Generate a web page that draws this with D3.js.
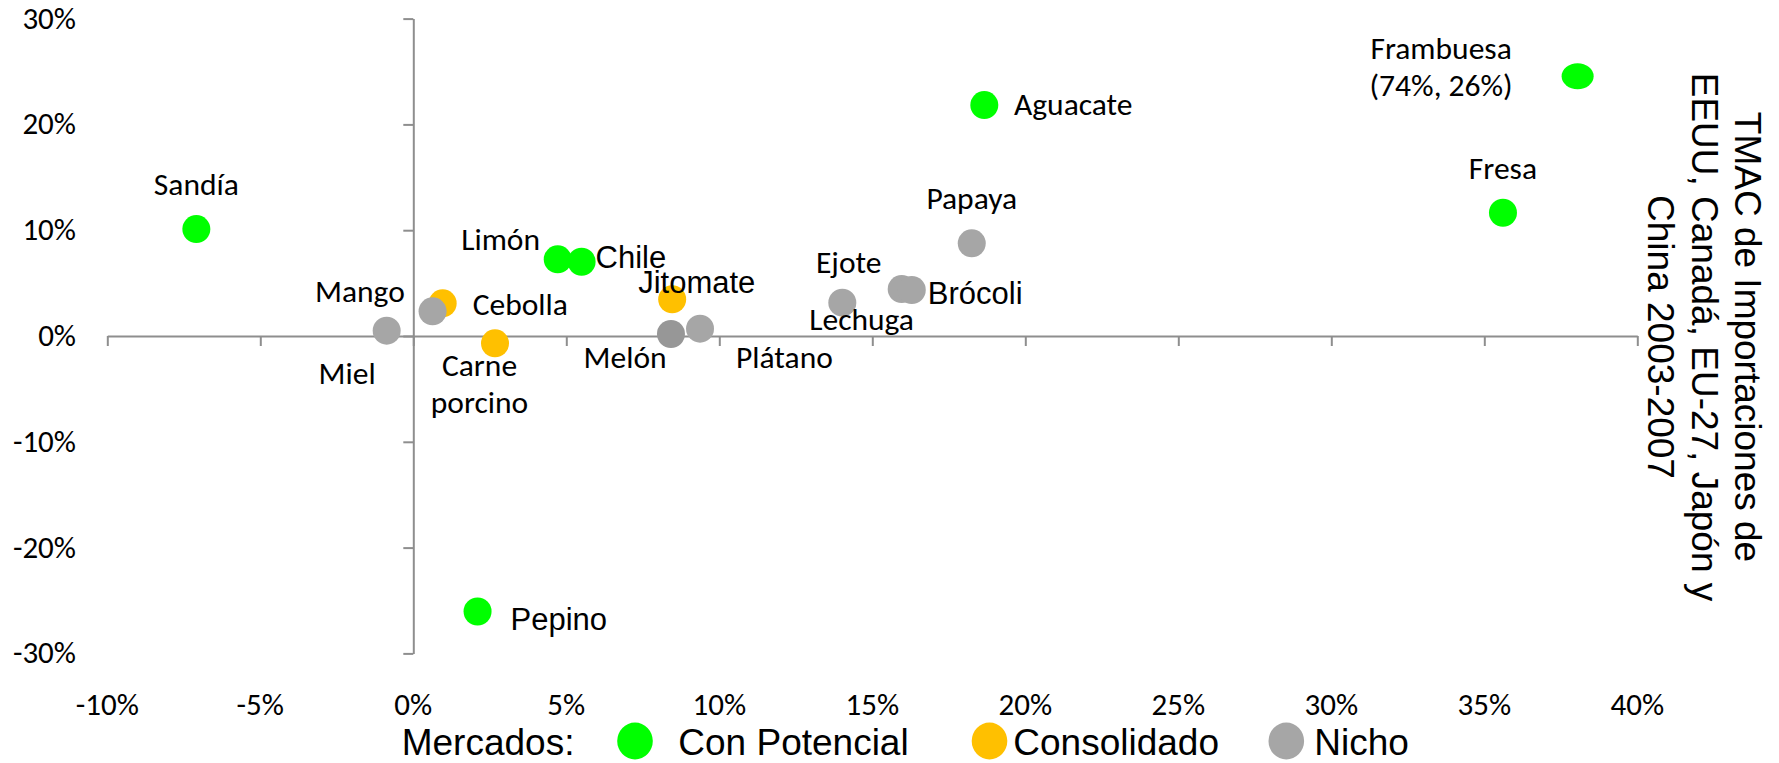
<!DOCTYPE html>
<html><head><meta charset="utf-8">
<script src="https://cdn.jsdelivr.net/npm/d3@7"></script>
<style>body{margin:0;background:#fff}svg{display:block}</style>
</head><body>
<svg id="c" width="1779" height="763"></svg>
<script>
// ---------- DATA ----------
const products = ["Sandía","Miel","Mango","Cebolla","Carne porcino","Limón","Chile","Jitomate","Melón","Plátano","Ejote","Lechuga","Brócoli","Papaya","Aguacate","Frambuesa","Fresa","Pepino"];
const xValues = [-7.09,-0.87,0.63,0.96,2.67,4.72,5.50,8.46,8.42,9.37,14.02,15.96,16.29,18.25,18.66,38.05,35.61,2.10];
const yValues = [10.11,0.50,2.33,3.09,-0.69,7.25,7.02,3.47,0.19,0.69,3.15,4.44,4.35,8.76,21.83,24.55,11.65,-26.04];
const markets = ["Con Potencial","Nicho","Nicho","Consolidado","Consolidado","Con Potencial","Con Potencial","Consolidado","Nicho","Nicho","Nicho","Nicho","Nicho","Nicho","Con Potencial","Con Potencial","Con Potencial","Con Potencial"];
const labelLines = {"Carne porcino":["Carne","porcino"],"Frambuesa":["Frambuesa","(74%, 26%)"]};
const xTicks = [-10,-5,0,5,10,15,20,25,30,35,40];
const yTicks = [-30,-20,-10,0,10,20,30];
const legendTitle = "Mercados:";
const legendItems = ["Con Potencial","Consolidado","Nicho"];
const axisTitleLines = ["TMAC de Importaciones de","EEUU, Canadá, EU-27, Japón y","China 2003-2007"];

// ---------- STYLE / LAYOUT ----------
const colors = {"Con Potencial":"#00FF00","Consolidado":"#FFC000","Nicho":"#A6A6A6"};
const colorOverride = {"Melón":"#979797"};
const markerShape = {"Frambuesa":[16,13]};
const axisColor = "#8E8E8E";
const calFamily = "Carlito, Lato, sans-serif";
const arialFamily = "'Liberation Sans', Arial, sans-serif";
const labelLayout = {
  "Sandía":[ "middle",0,-34,"c"],
  "Miel":["end",-11,53.6,"c"],
  "Mango":["end",-27.7,-9.6,"c"],
  "Cebolla":["start",30,11.7,"c"],
  "Carne porcino":["middle",-15.5,32.7,"c"],
  "Limón":["end",-17.7,-9.3,"c"],
  "Chile":["start",14,6.6,"a"],
  "Jitomate":["start",-34,-6.6,"a"],
  "Melón":["end",-4.3,34.3,"c"],
  "Plátano":["start",36,39.6,"c"],
  "Ejote":["middle",6.4,-30,"c"],
  "Lechuga":["end",12.3,41,"c"],
  "Brócoli":["start",16,14,"a"],
  "Papaya":["middle",0,-34.3,"c"],
  "Aguacate":["start",29.7,10,"c"],
  "Frambuesa":["middle",-136.5,-17,"c"],
  "Fresa":["middle",0,-33.7,"c"],
  "Pepino":["start",33,18.5,"a"]
};

const svg = d3.select("#c");
function measure(text, family, size){
  const t = svg.append("text").attr("font-family",family).attr("font-size",size).text(text);
  const w = t.node().getComputedTextLength(); t.remove(); return w;
}
const labelSize = 31.3 * (3.789*100) / measure("Aguacate", calFamily, 100);
const tickSize = 31 * (1.729*100) / measure("10%", calFamily, 100);

const x = d3.scaleLinear().domain([-10,40]).range([107.3,1637.3]);
const y = d3.scaleLinear().domain([-30,30]).range([653.4,18.6]);

// axes lines with ticks
svg.append("g").attr("transform",`translate(0,${y(0)})`)
  .call(d3.axisBottom(x).tickValues(xTicks).tickSize(10).tickSizeOuter(0).tickFormat(""))
  .call(g=>{g.select(".domain").attr("stroke",axisColor).attr("stroke-width",2);
            g.selectAll(".tick line").attr("stroke",axisColor).attr("stroke-width",2);});
svg.append("g").attr("transform",`translate(${x(0)},0)`)
  .call(d3.axisLeft(y).tickValues(yTicks).tickSize(10).tickSizeOuter(0).tickFormat(""))
  .call(g=>{g.select(".domain").attr("stroke",axisColor).attr("stroke-width",2);
            g.selectAll(".tick line").attr("stroke",axisColor).attr("stroke-width",2);});

// tick labels (low position)
svg.append("g").selectAll("text").data(xTicks).join("text")
  .attr("x",d=>x(d)).attr("y",715).attr("text-anchor","middle")
  .attr("font-family",calFamily).attr("font-size",tickSize).attr("fill","#000")
  .text(d=>d+"%");
svg.append("g").selectAll("text").data(yTicks).join("text")
  .attr("x",76).attr("y",d=>y(d)+10).attr("text-anchor","end")
  .attr("font-family",calFamily).attr("font-size",tickSize).attr("fill","#000")
  .text(d=>d+"%");

// points
const order = {"Con Potencial":0,"Consolidado":1,"Nicho":2};
const pts = products.map((p,i)=>({name:p,x:xValues[i],y:yValues[i],m:markets[i],i}))
  .sort((a,b)=>order[a.m]-order[b.m] || a.i-b.i);
svg.append("g").selectAll("ellipse").data(pts).join("ellipse")
  .attr("cx",d=>x(d.x)).attr("cy",d=>y(d.y))
  .attr("rx",d=>markerShape[d.name]?markerShape[d.name][0]:14)
  .attr("ry",d=>markerShape[d.name]?markerShape[d.name][1]:14)
  .attr("fill",d=>colorOverride[d.name]||colors[d.m]);

// labels
const lg = svg.append("g");
pts.forEach(d=>{
  const L = labelLayout[d.name];
  const lines = labelLines[d.name] || [d.name];
  const fam = L[3]==="a" ? arialFamily : calFamily;
  const fs = L[3]==="a" ? 31 : labelSize;
  const t = lg.append("text").attr("text-anchor",L[0]).attr("font-family",fam)
    .attr("font-size",fs).attr("fill","#000");
  lines.forEach((ln,k)=>{
    t.append("tspan").attr("x",x(d.x)+L[1]).attr("y",y(d.y)+L[2]+k*37).text(ln);
  });
});

// right axis title
axisTitleLines.forEach((ln,k)=>{
  svg.append("text").attr("transform",`translate(${[1735,1691.7,1648.3][k]},337) rotate(90)`)
    .attr("text-anchor","middle").attr("font-family",arialFamily).attr("font-size",37)
    .attr("fill","#000").text(ln);
});

// legend
const legPos = [[635,678.3],[989.5,1013.3],[1286.3,1314.3]];
const legBase = 755;
svg.append("text").attr("x",401.7).attr("y",legBase).attr("font-family",arialFamily)
  .attr("font-size",37).attr("fill","#000").text(legendTitle);
legendItems.forEach((it,k)=>{
  svg.append("ellipse").attr("cx",legPos[k][0]).attr("cy",legBase-14).attr("rx",17.8).attr("ry",18.5).attr("fill",colors[it]);
  svg.append("text").attr("x",legPos[k][1]).attr("y",legBase).attr("font-family",arialFamily)
    .attr("font-size",37).attr("fill","#000").text(it);
});
</script>
</body></html>
